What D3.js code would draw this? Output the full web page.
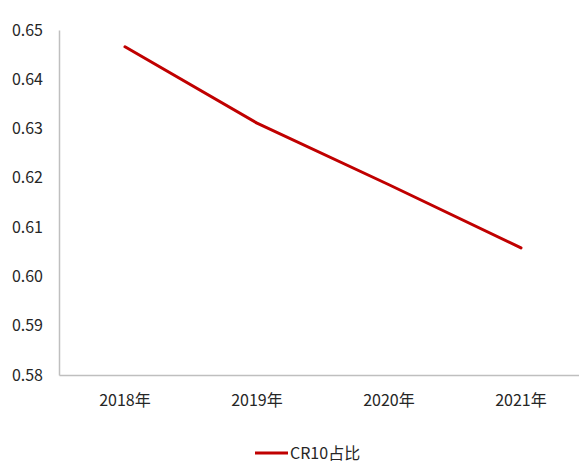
<!DOCTYPE html>
<html>
<head>
<meta charset="utf-8">
<script src="https://cdn.jsdelivr.net/npm/d3@7"></script>
<style>
  html, body { margin: 0; padding: 0; background: #fff; }
  svg { display: block; }
  text { font-family: "Liberation Sans Narrow", "Arial Narrow", "Noto Sans CJK SC", sans-serif; }
</style>
</head>
<body>
<svg id="chart" width="579" height="463"></svg>
<script>
// CR10 share by year
const years = ["2018年", "2019年", "2020年", "2021年"];
const cr10Share = [0.6466, 0.6311, 0.6186, 0.6058];
const yTicks = [0.58, 0.59, 0.60, 0.61, 0.62, 0.63, 0.64, 0.65];
const seriesName = "CR10占比";

(function () {
  const svg = d3.select("#chart");
  const plotLeft = 59, plotRight = 587, plotTop = 30, plotBottom = 375;

  const x = d3.scaleBand().domain(years).range([plotLeft, plotRight]);
  const y = d3.scaleLinear().domain([0.58, 0.65]).range([plotBottom, plotTop]);

  const axisColor = "#bfbfbf";
  const textColor = "#262626";
  const fontStack = '"Liberation Sans Narrow", "Arial Narrow", "Noto Sans CJK SC", sans-serif';

  // y axis
  const yAxis = svg.append("g")
    .attr("transform", `translate(${plotLeft},0)`)
    .call(d3.axisLeft(y).tickValues(yTicks).tickFormat(d3.format(".2f")).tickSize(0).tickPadding(16));
  yAxis.select(".domain").attr("stroke", axisColor).attr("stroke-width", 1.5);
  yAxis.selectAll("text").attr("fill", textColor).style("font-size", "16px").style("font-family", fontStack);

  // x axis
  const xAxis = svg.append("g")
    .attr("transform", `translate(0,${plotBottom})`)
    .call(d3.axisBottom(x).tickSize(0).tickPadding(20));
  xAxis.select(".domain").attr("stroke", axisColor).attr("stroke-width", 1.5);
  xAxis.selectAll("text").attr("fill", textColor).style("font-size", "16px").style("font-family", fontStack);

  // series line with rounded joints
  const line = d3.line()
    .x((d, i) => x(years[i]) + x.bandwidth() / 2)
    .y(d => y(d));

  svg.append("path")
    .datum(cr10Share)
    .attr("d", line)
    .attr("fill", "none")
    .attr("stroke", "#c00000")
    .attr("stroke-width", 3)
    .attr("stroke-linecap", "round")
    .attr("stroke-linejoin", "round");

  // legend
  const lg = svg.append("g").attr("transform", "translate(255,453)");
  lg.append("line").attr("x1", 0).attr("x2", 33).attr("y1", 0).attr("y2", 0)
    .attr("stroke", "#c00000").attr("stroke-width", 3);
  lg.append("text").attr("x", 35).attr("y", 0).attr("dy", "0.35em")
    .attr("fill", textColor).style("font-size", "16px").style("font-family", fontStack)
    .text(seriesName);
})();
</script>
</body>
</html>
